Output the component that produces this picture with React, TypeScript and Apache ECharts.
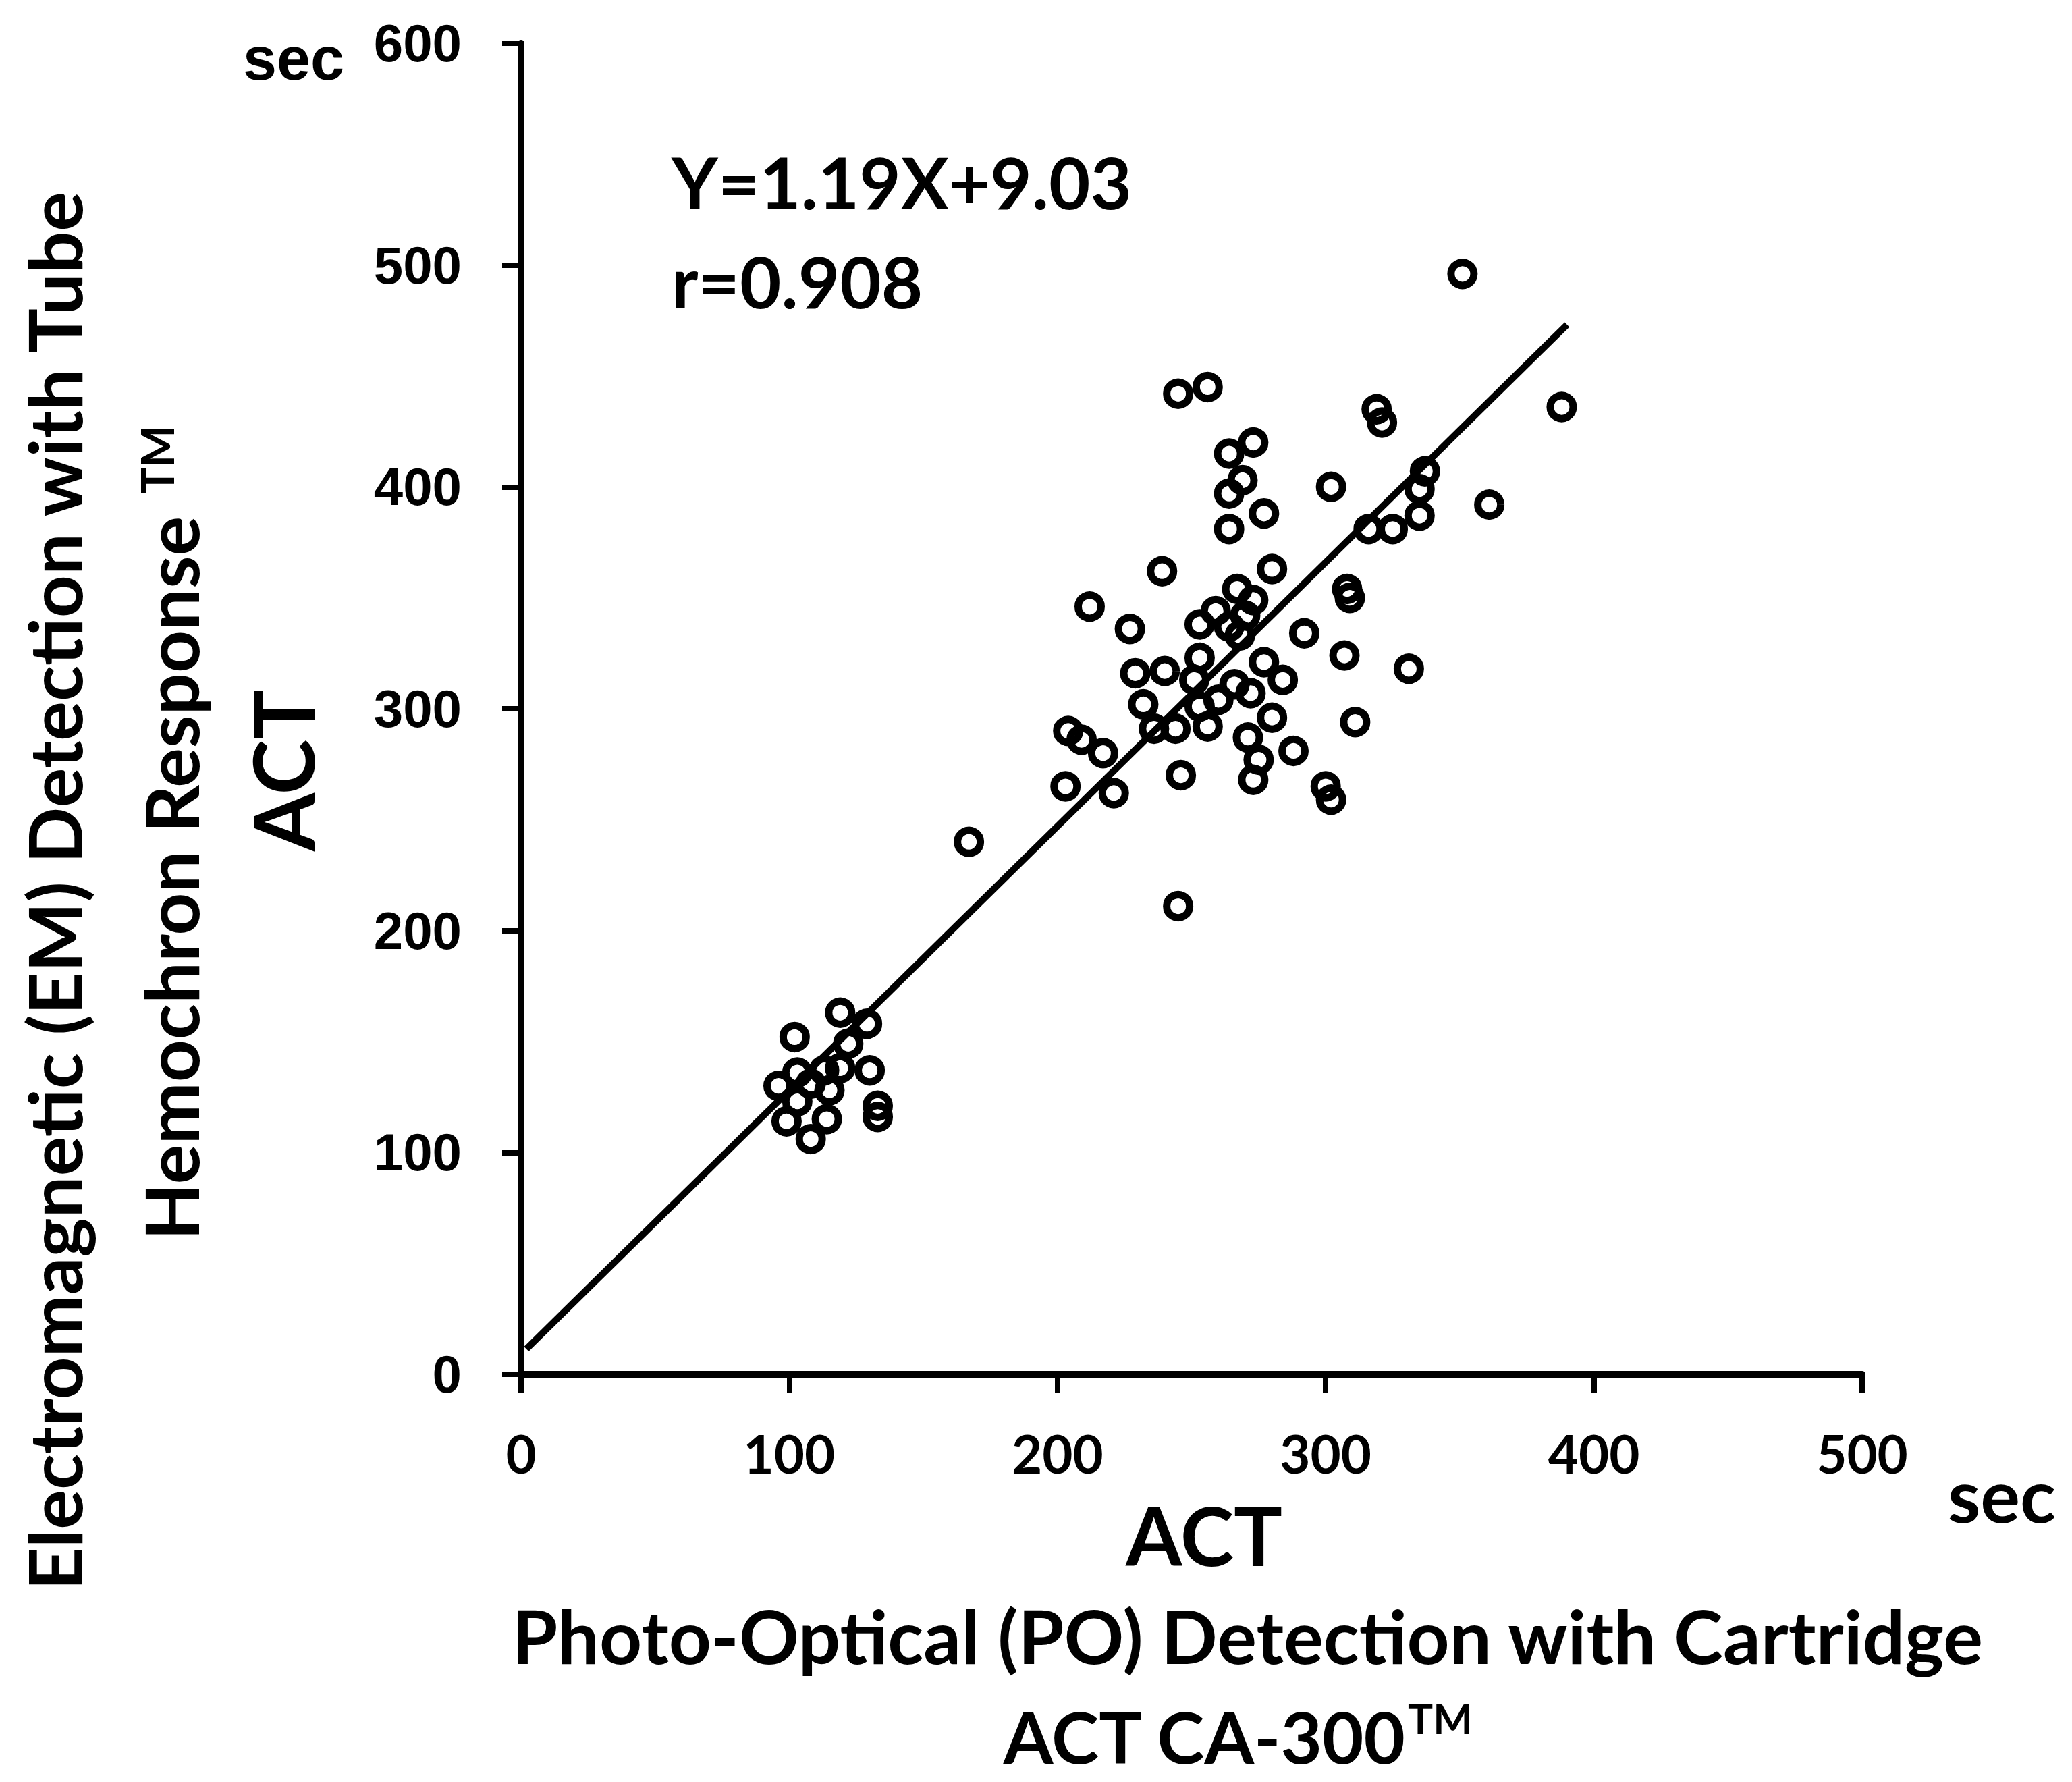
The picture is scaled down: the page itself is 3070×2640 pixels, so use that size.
import React, { useEffect, useRef } from "react";
import * as echarts from "echarts";

// Photo-Optical ACT (x, sec) vs Electromagnetic ACT (y, sec)
const poX: number[] = [
  119, 129, 102, 122, 119, 113, 130, 103, 96, 115, 108, 103, 133, 133, 99, 114, 108,
  167, 245, 204, 209, 217, 203, 221,
  212, 227, 229, 240, 232, 236, 244, 239,
  245, 256, 273, 264, 269, 264, 277, 264,
  280, 267, 273, 259, 253, 270, 264, 268,
  253, 277, 284, 251, 266, 272, 260, 253,
  280, 256, 271, 288, 275, 273, 246, 300, 302,
  292, 307, 331, 311, 308, 309,
  302, 335, 337, 335, 325, 316, 319, 321,
  351, 388, 361,
];
const emY: number[] = [
  163, 158, 152, 149, 138, 137, 137, 136, 130, 128, 131, 123, 121, 116, 114, 115, 106,
  240, 211, 290, 286, 280, 265, 262,
  346, 336, 316, 317, 302, 291, 291, 362,
  442, 445, 420, 415, 403, 397, 388, 381,
  363, 354, 349, 344, 338, 342, 337, 333,
  323, 321, 313, 313, 311, 307, 304, 301,
  296, 292, 287, 281, 277, 268, 270, 265, 259,
  334, 324, 318, 294, 354, 350,
  400, 399, 407, 387, 381, 381, 435, 429,
  496, 436, 392,
];

// Regression: Y = 1.19X + 9.03 drawn over this x range
const SLOPE = 1.19;
const INTERCEPT = 9.03;
const fitX: number[] = [2, 390];

const xTicks = { min: 0, max: 500, interval: 100 };
const yTicks = { min: 0, max: 600, interval: 100 };

const eqText = "Y=1.19X+9.03";
const rText = "r=0.908";

export default function App() {
  const ref = useRef<HTMLDivElement>(null);
  useEffect(() => {
    if (!ref.current) return;
    const chart = echarts.init(ref.current, undefined, { renderer: "svg" });
    const points = poX.map((x, i) => [x, emY[i]]);
    const fit = fitX.map((x) => [x, SLOPE * x + INTERCEPT]);
    const black = "#000";
    const lato = (s: number) => `bold ${s}px Lato`;
    const option: any = {
      animation: false,
      backgroundColor: "#fff",
      grid: { left: 772, right: 311, top: 64, bottom: 604, containLabel: false },
      xAxis: {
        type: "value",
        ...xTicks,
        axisLine: { onZero: false, lineStyle: { color: black, width: 10 } },
        axisTick: { show: true, inside: false, length: 28, lineStyle: { color: black, width: 8 } },
        axisLabel: { margin: 78, color: black, fontFamily: "Lato", fontWeight: "bold", fontSize: 78 },
        splitLine: { show: false },
      },
      yAxis: {
        type: "value",
        ...yTicks,
        axisLine: { onZero: false, lineStyle: { color: black, width: 10 } },
        axisTick: { show: true, inside: false, length: 28, lineStyle: { color: black, width: 8 } },
        axisLabel: { margin: 88, color: black, fontFamily: "Liberation Sans", fontWeight: "bold", fontSize: 78 },
        splitLine: { show: false },
      },
      series: [
        {
          type: "line",
          data: fit,
          symbol: "none",
          showSymbol: false,
          lineStyle: { color: black, width: 10, opacity: 1 },
          z: 3,
        },
        {
          type: "scatter",
          data: points,
          symbol: "circle",
          symbolSize: 34,
          itemStyle: { color: "rgba(255,255,255,0)", borderColor: black, borderWidth: 11, opacity: 1 },
          z: 2,
        },
      ],
      graphic: [
        { type: "text", x: 995, y: 269, style: { text: eqText, font: lato(106), fill: black, align: "left", verticalAlign: "middle" } },
        { type: "text", x: 995, y: 416, style: { text: rText, font: lato(106), fill: black, align: "left", verticalAlign: "middle" } },
        { type: "text", x: 435, y: 87, style: { text: "sec", font: "bold 90px 'Liberation Sans'", fill: black, align: "center", verticalAlign: "middle" } },
        { type: "text", x: 2966, y: 2213, style: { text: "sec", font: lato(110), fill: black, align: "center", verticalAlign: "middle" } },
        { type: "text", x: 1784, y: 2274, style: { text: "ACT", font: lato(120), fill: black, align: "center", verticalAlign: "middle" } },
        { type: "text", x: 1848, y: 2422, style: { text: "Photo-Optical (PO) Detection with Cartridge", font: lato(110), fill: black, align: "center", verticalAlign: "middle" } },
        { type: "text", x: 2082, y: 2572, style: { text: "ACT CA-300", font: lato(106), fill: black, align: "right", verticalAlign: "middle" } },
        { type: "text", x: 2086, y: 2545, style: { text: "TM", font: lato(62), fill: black, align: "left", verticalAlign: "middle" } },
        { type: "text", x: 79, y: 1320, rotation: Math.PI / 2, style: { text: "Electromagnetic (EM) Detection with Tube", font: lato(110), fill: black, align: "center", verticalAlign: "middle" } },
        { type: "text", x: 252, y: 1301, rotation: Math.PI / 2, style: { text: "Hemochron Response", font: lato(110), fill: black, align: "center", verticalAlign: "middle" } },
        { type: "text", x: 232, y: 681, rotation: Math.PI / 2, style: { text: "TM", font: lato(66), fill: black, align: "center", verticalAlign: "middle" } },
        { type: "text", x: 418, y: 1141, rotation: Math.PI / 2, style: { text: "ACT", font: lato(124), fill: black, align: "center", verticalAlign: "middle" } },
      ],
    };
    chart.setOption(option);
    return () => chart.dispose();
  }, []);
  return (
    <div
      ref={ref}
      style={{ position: "absolute", left: 0, top: 0, width: 3070, height: 2640, background: "#fff" }}
    />
  );
}
